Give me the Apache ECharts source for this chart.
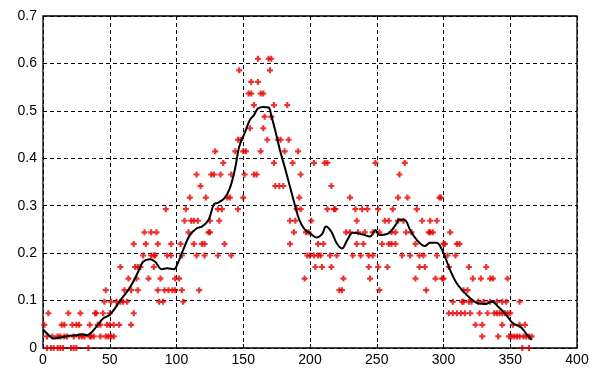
<!DOCTYPE html>
<html>
<head>
<meta charset="utf-8">
<script src="https://cdn.jsdelivr.net/npm/echarts@6/dist/echarts.min.js"></script>
<style>html,body{margin:0;padding:0;background:#fff}#c{width:599px;height:372px}</style>
</head>
<body>
<div id="c"></div>
<script>
// Observed values are quantised in steps of 1/41; each list holds the days observed at that level.
const levelStep = 1 / 41;
const daysByLevel = [
  [3,6,8,11,13,15,21,23,25,34,359,364],
  [3,7,11,13,16,18,23,27,29,31,35,36,38,43,47,49,51,53,329,341,349,351,353,355,357,360,362,364,366],
  [1,14,16,22,25,27,35,41,43,48,50,53,57,66,324,329,344,352,357,361],
  [4,19,28,39,40,45,50,68,304,307,310,313,316,320,327,333,338,340,342,344,346,348,350],
  [46,51,55,58,60,63,87,90,105,307,314,315,319,321,326,330,335,340,344,347,357],
  [47,61,66,71,86,91,94,97,99,104,117,222,224,252,287,315,318],
  [64,70,79,88,99,102,196,225,245,279,294,299,300,322,328,335,337,348],
  [58,69,71,73,83,204,209,216,244,251,258,282,286,304,319,332],
  [75,81,83,84,93,96,104,115,121,131,141,198,200,203,206,208,215,220,232,238,244,247,269,275,282,285,295,303,309],
  [68,77,86,96,103,113,119,121,136,185,206,210,235,240,254,259,261,264,279,300,301,310,312],
  [76,81,85,109,124,125,188,197,199,227,230,236,241,247,252,261,264,272,276,289,290,292,305],
  [106,111,113,116,125,132,185,189,201,235,256,259,266,270,284,290,295],
  [92,107,131,134,146,190,193,213,218,219,234,239,243,251,262,280],
  [110,122,138,140,150,192,230,266,273,297,298],
  [118,174,177,180,216],
  [115,126,128,133,141,151,158,160,193,267],
  [135,173,187,203,211,213,249,271],
  [129,144,150,152,163,181,191],
  [146,148,168,176,178,184],
  [155,165],
  [166,171],
  [158,173,183],
  [154,156,163,165],
  [156,161],
  [147,170],
  [161,169,171]
];
const lineDays = [0,4,8,13,18,25,29,33,37,40,45,50,54,58,63,68,72,75,80,84,89,93,98,101,105,110,115,119,124,128,131,136,140,144,147,151,155,158,161,165,169,171,174,177.5,181,185,189,192,196,200,205,209,212,216,220,224,228,232,239,245,249,252,259,264,267,271,275,280,286,290,295,297,301,305,310,315,320,326,332,336,341,347,352,358,362,366];
const lineValues = [0.039,0.028,0.02,0.022,0.025,0.027,0.029,0.027,0.035,0.045,0.062,0.07,0.084,0.101,0.119,0.142,0.165,0.182,0.187,0.182,0.166,0.168,0.166,0.179,0.207,0.238,0.252,0.256,0.27,0.303,0.306,0.316,0.337,0.38,0.425,0.453,0.481,0.491,0.505,0.508,0.507,0.49,0.458,0.417,0.382,0.34,0.298,0.27,0.25,0.242,0.233,0.24,0.256,0.245,0.221,0.21,0.228,0.243,0.24,0.235,0.249,0.238,0.242,0.259,0.271,0.27,0.249,0.228,0.215,0.222,0.222,0.217,0.193,0.164,0.136,0.119,0.105,0.094,0.093,0.098,0.087,0.07,0.052,0.044,0.03,0.017];
const xTicks = [0,50,100,150,200,250,300,350,400];
const yTicks = [0,0.1,0.2,0.3,0.4,0.5,0.6,0.7];

const scatterData = [];
daysByLevel.forEach((days, k) => days.forEach(d => scatterData.push([d, +(k * levelStep).toFixed(4)])));
const lineData = lineDays.map((d, i) => [d, lineValues[i]]);

const font = 'Liberation Sans, Arial, Helvetica, sans-serif';
const chart = echarts.init(document.getElementById('c'), null, {renderer: 'canvas'});
chart.setOption({
  animation: false,
  backgroundColor: '#fff',
  grid: {left: 43, right: 22, top: 16, bottom: 24, show: true, borderColor: '#000', borderWidth: 1.3, backgroundColor: 'transparent'},
  xAxis: {
    type: 'value', min: xTicks[0], max: xTicks[xTicks.length - 1], interval: 50,
    axisLine: {show: false},
    axisTick: {show: true, inside: true, length: 4, lineStyle: {color: '#000'}},
    axisLabel: {color: '#000', fontFamily: font, fontSize: 14, margin: 5},
    splitLine: {show: true, lineStyle: {color: '#000', type: [4, 3], width: 1}}
  },
  yAxis: {
    type: 'value', min: yTicks[0], max: yTicks[yTicks.length - 1], interval: 0.1,
    axisLine: {show: false},
    axisTick: {show: true, inside: true, length: 4, lineStyle: {color: '#000'}},
    axisLabel: {color: '#000', fontFamily: font, fontSize: 14, margin: 6,
      formatter: v => String(+v.toFixed(1))},
    splitLine: {show: true, lineStyle: {color: '#000', type: [4, 3], width: 1}}
  },
  series: [
    {
      type: 'scatter', data: scatterData,
      symbol: 'path://M1.6,0H3.4V1.6H5V3.4H3.4V5H1.6V3.4H0V1.6H1.6Z', symbolSize: 6,
      itemStyle: {color: '#e60000'}
    },
    {
      type: 'line', data: lineData, smooth: 0.35, showSymbol: false,
      lineStyle: {color: '#000', width: 2}
    }
  ]
});
</script>
</body>
</html>
